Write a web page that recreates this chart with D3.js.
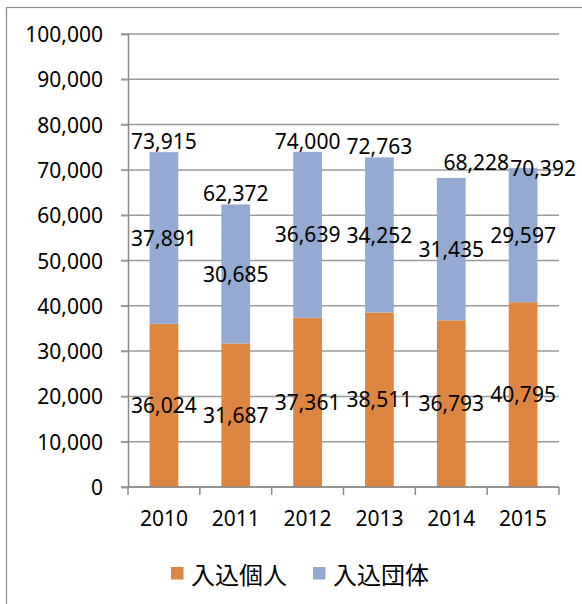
<!DOCTYPE html>
<html>
<head>
<meta charset="utf-8">
<script src="https://cdn.jsdelivr.net/npm/d3@7"></script>
<style>
body { margin: 0; background: #fff; }
svg text { font-family: "Noto Sans", "DejaVu Sans", sans-serif; fill: #000; }
</style>
</head>
<body>
<div id="chart"></div>
<script>
var years = ["2010", "2011", "2012", "2013", "2014", "2015"];
var kojin = [36024, 31687, 37361, 38511, 36793, 40795];
var dantai = [37891, 30685, 36639, 34252, 31435, 29597];
var totals = [73915, 62372, 74000, 72763, 68228, 70392];
var seriesNames = ["入込個人", "入込団体"];
var seriesColors = ["#dc8641", "#95aad2"];
var yTicks = [0, 10000, 20000, 30000, 40000, 50000, 60000, 70000, 80000, 90000, 100000];

var width = 582, height = 604;
var plot = {left: 128, right: 559, top: 34, bottom: 487};
var fmt = d3.format(",");

var svg = d3.select("#chart").append("svg").attr("width", width).attr("height", height);

// outer chart frame (runs off the right and bottom)
svg.append("rect")
	.attr("x", 6.5).attr("y", 7.5)
	.attr("width", 620).attr("height", 640)
	.style("fill", "none")
	.style("stroke", "#8a8a8a")
	.style("stroke-width", 1.2);

var x = d3.scaleBand().domain(years).range([plot.left, plot.right]).paddingInner(0.6).paddingOuter(0.3);
var y = d3.scaleLinear().domain([0, 100000]).range([plot.bottom, plot.top]);

// gridlines
svg.append("g")
	.selectAll("line")
	.data(yTicks)
	.enter()
	.append("line")
	.attr("x1", plot.left - 7)
	.attr("x2", plot.right)
	.attr("y1", function(d) { return y(d); })
	.attr("y2", function(d) { return y(d); })
	.style("stroke", "#9a9a9a")
	.style("stroke-width", 1.5);

// y axis
var yAxis = d3.axisLeft(y).tickValues(yTicks).tickFormat(fmt).tickSize(7).tickPadding(18);
var gy = svg.append("g")
	.attr("transform", "translate(" + plot.left + ",0)")
	.call(yAxis);
gy.select(".domain").style("stroke", "#8a8a8a").style("stroke-width", 1.5);
gy.selectAll(".tick line").style("stroke", "#9a9a9a").style("stroke-width", 1.5);
gy.selectAll(".tick text")
	.style("font-size", "21px")
	.style("font-family", "'Noto Sans', sans-serif")
	.attr("fill", "#000")
	.attr("dy", "0.36em");

// stacked bars
var stackData = years.map(function(yr, i) { return {year: yr, kojin: kojin[i], dantai: dantai[i]}; });
var stack = d3.stack().keys(["kojin", "dantai"]);
var layers = stack(stackData);

svg.append("g")
	.selectAll("g")
	.data(layers)
	.enter()
	.append("g")
	.style("fill", function(d, i) { return seriesColors[i]; })
	.selectAll("rect")
	.data(function(d) { return d; })
	.enter()
	.append("rect")
	.attr("x", function(d) { return x(d.data.year); })
	.attr("width", x.bandwidth())
	.attr("y", function(d) { return y(d[1]); })
	.attr("height", function(d) { return y(d[0]) - y(d[1]); });

// x axis line and ticks between categories
svg.append("line")
	.attr("x1", plot.left).attr("x2", plot.right)
	.attr("y1", plot.bottom).attr("y2", plot.bottom)
	.style("stroke", "#8a8a8a").style("stroke-width", 1.5);

var bounds = years.map(function(d) { return x(d) + x.bandwidth() / 2 - x.step() / 2; });
bounds.push(plot.right);
svg.append("g")
	.selectAll("line")
	.data(bounds)
	.enter()
	.append("line")
	.attr("x1", function(d) { return d; })
	.attr("x2", function(d) { return d; })
	.attr("y1", plot.bottom)
	.attr("y2", plot.bottom + 8)
	.style("stroke", "#8a8a8a").style("stroke-width", 1.5);

var xAxis = d3.axisBottom(x).tickSize(0).tickPadding(24);
var gx = svg.append("g")
	.attr("transform", "translate(0," + plot.bottom + ")")
	.call(xAxis);
gx.select(".domain").remove();
gx.selectAll(".tick text")
	.style("font-size", "21px")
	.style("font-family", "'Noto Sans', sans-serif")
	.attr("fill", "#000");

// segment labels
layers.forEach(function(layer) {
	svg.append("g")
		.selectAll("text")
		.data(layer)
		.enter()
		.append("text")
		.attr("x", function(d) { return x(d.data.year) + x.bandwidth() / 2; })
		.attr("y", function(d) { return y((d[0] + d[1]) / 2); })
		.attr("dy", "0.36em")
		.style("text-anchor", "middle")
		.style("font-size", "21px")
		.text(function(d) { return fmt(d[1] - d[0]); });
});

// total labels (last two were moved aside in the original)
var nudge = {"2014": [25, -5], "2015": [20, 11]};
svg.append("g")
	.selectAll("text")
	.data(totals)
	.enter()
	.append("text")
	.attr("x", function(d, i) {
		var n = nudge[years[i]] || [0, 0];
		return x(years[i]) + x.bandwidth() / 2 + n[0];
	})
	.attr("y", function(d, i) {
		var n = nudge[years[i]] || [0, 0];
		return y(d) - 3 + n[1];
	})
	.style("text-anchor", "middle")
	.style("font-size", "21px")
	.text(function(d) { return fmt(d); });

// legend
var legendX = [171, 313];
var legend = svg.append("g");
seriesNames.forEach(function(name, i) {
	legend.append("rect")
		.attr("x", legendX[i]).attr("y", 567)
		.attr("width", 12.5).attr("height", 12.5)
		.style("fill", seriesColors[i]);
	legend.append("text")
		.attr("x", legendX[i] + 20)
		.attr("y", 573)
		.attr("dominant-baseline", "central")
		.style("font-family", "'Noto Sans CJK JP', sans-serif")
		.style("font-size", "24px")
		.text(name);
});
</script>
</body>
</html>
